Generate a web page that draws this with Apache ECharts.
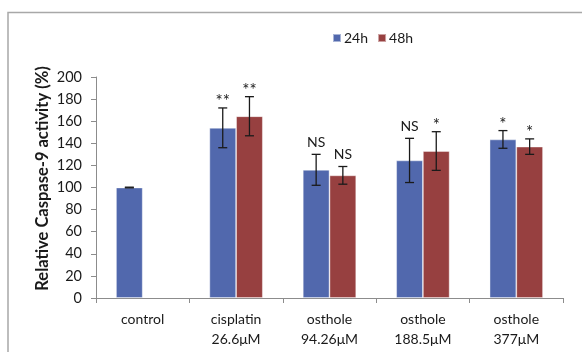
<!DOCTYPE html>
<html><head><meta charset="utf-8">
<script src="https://cdn.jsdelivr.net/npm/echarts@6/dist/echarts.min.js"></script>
<style>html,body{margin:0;padding:0;background:#fff}#c{width:582px;height:352px}</style>
</head><body><div id="c"></div>
<script>
var categories = ['control', 'cisplatin\n26.6μM', 'osthole\n94.26μM', 'osthole\n188.5μM', 'osthole\n377μM'];
var seriesNames = ['24h', '48h'];
var values24 = [100, 154, 116, 124.5, 143.5];
var values48 = [null, 164.5, 111, 133, 137];
var err24 = [0.3, 18, 14, 20, 8];
var err48 = [null, 17.7, 8, 17.5, 7];
var sig24 = ['', '**', 'NS', 'NS', '*'];
var sig48 = ['', '**', 'NS', '*', '*'];
var yTicks = [0, 20, 40, 60, 80, 100, 120, 140, 160, 180, 200];

var FONT = 'Lato, "Open Sans", sans-serif';
var BAR_RATIO = 0.286;
var colors = ['#5168ad', '#974040'];

function errSeries(vals, errs, sigs, side) {
  var data = vals.map(function (v, i) { return v == null ? null : [i, v, errs[i], sigs[i]]; })
    .filter(function (d) { return d; });
  return {
    type: 'custom',
    silent: true,
    z: 5,
    data: data,
    encode: { x: 0, y: 1 },
    renderItem: function (params, api) {
      var i = api.value(0), v = api.value(1), e = api.value(2);
      var sig = data[params.dataIndex][3];
      var band = api.size([1, 0])[0];
      var bw = band * BAR_RATIO;
      var c = api.coord([i, v]);
      var x = c[0] + side * bw / 2;
      var top = api.coord([i, v + e])[1];
      var bot = api.coord([i, v - e])[1];
      var cap = 4.5;
      var st = { stroke: '#1a1a1a', lineWidth: 1.3 };
      var children = [
        { type: 'line', shape: { x1: x, y1: top, x2: x, y2: bot }, style: st },
        { type: 'line', shape: { x1: x - cap, y1: top, x2: x + cap, y2: top }, style: st },
        { type: 'line', shape: { x1: x - cap, y1: bot, x2: x + cap, y2: bot }, style: st }
      ];
      if (sig) {
        var isNS = sig === 'NS';
        children.push({
          type: 'text',
          style: {
            text: sig, x: x, y: isNS ? top - 5 : top + 2,
            textAlign: 'center', textVerticalAlign: 'bottom',
            font: (isNS ? '14px ' : '17px ') + FONT, fill: '#1a1a1a'
          }
        });
      }
      return { type: 'group', children: children };
    }
  };
}

var chart = echarts.init(document.getElementById('c'), null, { renderer: 'canvas' });
chart.setOption({
  animation: false,
  backgroundColor: '#fff',
  graphic: [{
    type: 'rect', shape: { x: 8, y: 12.5, width: 600, height: 400 },
    style: { fill: 'none', stroke: '#a8a8a8', lineWidth: 1.5 }, z: -1
  }],
  legend: {
    data: seriesNames,
    left: 327, top: 26,
    itemWidth: 8, itemHeight: 8, itemGap: 9,
    icon: 'rect',
    textStyle: { fontFamily: FONT, fontSize: 14, color: '#1a1a1a', padding: [0, 0, 0, -2] }
  },
  grid: { left: 96, right: 19, top: 77, bottom: 54 },
  xAxis: {
    type: 'category',
    data: categories,
    axisLine: { lineStyle: { color: '#8c8c8c', width: 1 } },
    axisTick: { show: true, length: 5, lineStyle: { color: '#8c8c8c' } },
    axisLabel: { fontFamily: FONT, fontSize: 14, color: '#1a1a1a', lineHeight: 20, margin: 11 }
  },
  yAxis: {
    type: 'value', min: 0, max: 200, interval: 20,
    name: 'Relative Caspase-9 activity (%)',
    nameLocation: 'middle', nameGap: 45, nameMoveOverlap: false,
    nameTextStyle: { fontFamily: FONT, fontSize: 16.5, fontWeight: 'bold', color: '#1a1a1a', padding: [0, 0, 0, 18] },
    axisLine: { show: true, lineStyle: { color: '#8c8c8c', width: 1 } },
    axisTick: { show: true, length: 5, inside: false, lineStyle: { color: '#8c8c8c' } },
    splitLine: { show: false },
    axisLabel: {
      fontFamily: FONT, fontSize: 14.5, color: '#1a1a1a', margin: 14,
      formatter: function (v) { return yTicks.indexOf(v) >= 0 ? String(v) : ''; }
    }
  },
  series: [
    { name: seriesNames[0], type: 'bar', data: values24, barWidth: (BAR_RATIO * 100) + '%', barGap: '0%',
      itemStyle: { color: colors[0], borderColor: 'rgba(255,255,255,0.5)', borderWidth: 0.8 } },
    { name: seriesNames[1], type: 'bar', data: values48, barWidth: (BAR_RATIO * 100) + '%', barGap: '0%',
      itemStyle: { color: colors[1], borderColor: 'rgba(255,255,255,0.5)', borderWidth: 0.8 } },
    errSeries(values24, err24, sig24, -1),
    errSeries(values48, err48, sig48, 1)
  ]
});
</script></body></html>
